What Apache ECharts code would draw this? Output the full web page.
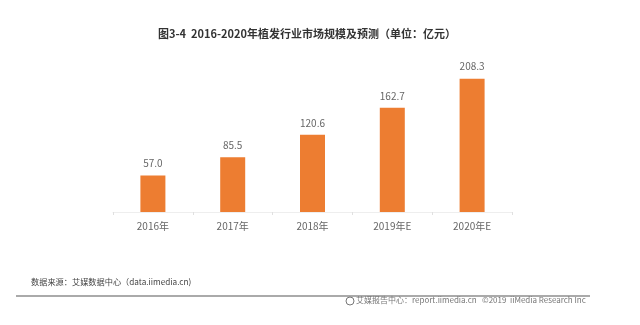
<!DOCTYPE html>
<html>
<head>
<meta charset="utf-8">
<script src="https://cdn.jsdelivr.net/npm/echarts@6/dist/echarts.min.js"></script>
<style>html,body{margin:0;padding:0;background:#fff;}#c{width:640px;height:325px;}</style>
</head>
<body>
<div id="c"></div>
<script>
const categories = ['2016年', '2017年', '2018年', '2019年E', '2020年E'];
const values = [57.0, 85.5, 120.6, 162.7, 208.3];
const titleText = '图3-4  2016-2020年植发行业市场规模及预测（单位：亿元）';
const sourceText = '数据来源：艾媒数据中心（data.iimedia.cn)';
const footerText = '艾媒报告中心：report.iimedia.cn   ©2019  iiMedia Research Inc';

const chart = echarts.init(document.getElementById('c'), null, {renderer: 'canvas'});
const font = '"Noto Sans CJK SC", "Microsoft YaHei", sans-serif';
chart.setOption({
  backgroundColor: '#fff',
  animation: false,
  title: {
    text: titleText,
    left: 302, top: 23, textAlign: 'center',
    textStyle: {fontSize: 11, fontWeight: 'bold', color: '#333', fontFamily: font}
  },
  grid: {left: 113, width: 399, top: 52, height: 160},
  xAxis: {
    type: 'category', data: categories,
    axisLine: {show: true, lineStyle: {color: '#eeeeee', width: 1}},
    axisTick: {show: true, lineStyle: {color: '#e0e0e0'}, length: 3},
    axisLabel: {color: '#666', fontSize: 10, margin: 9, fontFamily: font}
  },
  yAxis: {type: 'value', min: 0, max: 250, show: false, splitLine: {show: false}},
  series: [{
    type: 'bar', data: values, barWidth: 25,
    itemStyle: {color: '#ED7D31'},
    label: {show: true, position: 'top', distance: 7, color: '#666', fontSize: 10, fontFamily: font,
      formatter: p => p.value.toFixed(1)}
  }],
  graphic: [
    {type: 'text', left: 31, top: 278, style: {text: sourceText, fontSize: 8.2, fill: '#444', fontFamily: font}},
    {type: 'line', shape: {x1: 16, y1: 296, x2: 590, y2: 296}, style: {stroke: '#aaaaaa', lineWidth: 2}},
    {type: 'circle', shape: {cx: 350, cy: 301, r: 4}, style: {fill: 'none', stroke: '#777', lineWidth: 1}},
    {type: 'text', left: 356, top: 296, style: {text: footerText, fontSize: 8, fill: '#777', fontFamily: font}}
  ]
});
</script>
</body>
</html>
